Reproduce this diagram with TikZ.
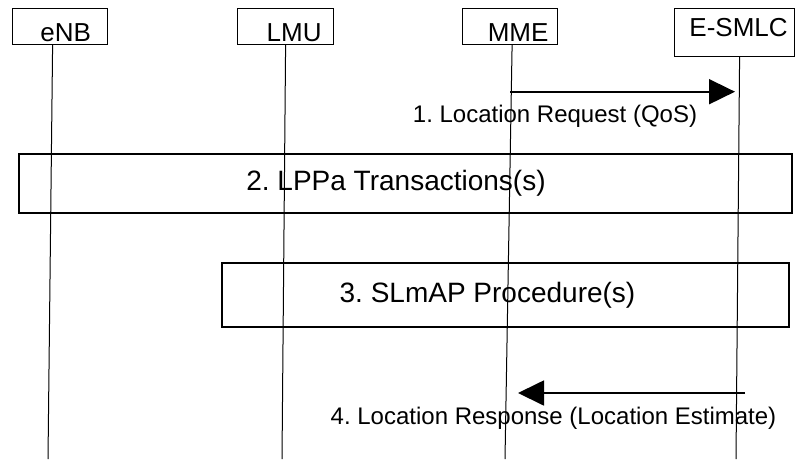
\documentclass[tikz,border=0pt]{standalone}
\usepackage{fontspec}
\setmainfont{Liberation Sans}
\usetikzlibrary{arrows.meta}
\frenchspacing

\begin{document}
\begin{tikzpicture}[x=1pt,y=-1pt,
  hdr/.style={draw, line width=1.2pt, anchor=north west, inner sep=0pt,
    font=\fontsize{26}{30}\selectfont, text height=33pt, text depth=3pt},
  proc/.style={draw, line width=1.2pt, inner sep=0pt, font=\fontsize{28}{32}\selectfont},
  msg/.style={anchor=base, font=\fontsize{24}{28}\selectfont},
  life/.style={line width=1pt},
  sig/.style={line width=1.8pt, -{Triangle[length=26pt,width=25pt]}}]

 \useasboundingbox (0,0) rectangle (795,459);

 % entities
 \node[hdr, minimum width=95pt] (enb) at (12,8) {\hspace*{11pt}eNB};
 \node[hdr, minimum width=96pt] (lmu) at (237,8) {\hspace*{17pt}LMU};
 \node[hdr, minimum width=95pt] (mme) at (462,8) {\hspace*{16pt}MME};
 \node[hdr, minimum width=120pt, text height=28pt, text depth=20pt] (smlc) at (674,8) {\hspace*{8pt}E-SMLC};

 \foreach \n/\dx/\bx in {enb/-7.5/48, lmu/0/282, mme/2/505, smlc/5/736}
 {
   \coordinate (\n-end) at (\bx,459);
   \draw[life] ([xshift=\dx]\n.south) -- (\n-end);
 }

 % 1
 \coordinate (req-from) at (510,91.7);
 \coordinate (req-to) at (735,91.7);
 \draw[sig] (req-from) -- (req-to);
 \node[msg] (req) at (555,122) {1. Location Request (QoS)};

 % 2 and 3
 \node[proc, minimum width=773pt, minimum height=59pt] (lppa) at (405.5,183.5) {2. LPPa Transactions(s)\hspace*{19pt}};
 \node[proc, minimum width=567pt, minimum height=64pt] (slmap) at (505.5,295) {3. SLmAP Procedure(s)\hspace*{36pt}};

 % 4
 \coordinate (resp-from) at (745,393);
 \coordinate (resp-to) at (518,393);
 \draw[sig] (resp-from) -- (resp-to);
 \node[msg] (resp) at (553.5,424) {4. Location Response (Location Estimate)};
\end{tikzpicture}
\end{document}
